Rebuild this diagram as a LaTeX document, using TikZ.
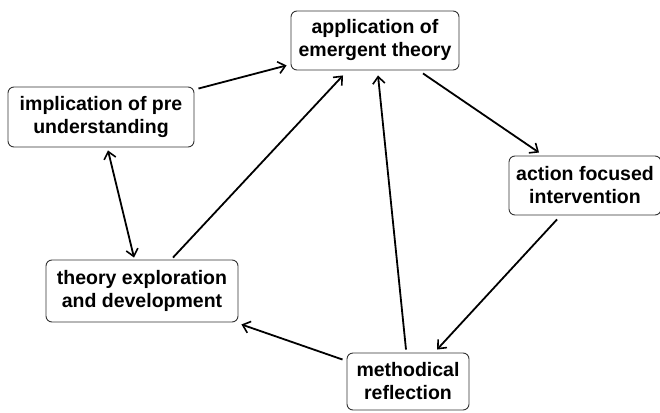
\documentclass[tikz,border=0pt]{standalone}
\usepackage{fontspec}
\setmainfont{Liberation Sans}
\usetikzlibrary{arrows.meta}
\begin{document}
\begin{tikzpicture}[x=1pt,y=-1pt,
  box/.style={draw=black!80, line width=0.9pt, rounded corners=6pt, align=center,
    inner sep=0pt, font=\fontsize{19.5}{23}\selectfont\bfseries},
  conn/.style={line width=1.8pt, -{Straight Barb[length=7pt,width=12pt,line width=1.6pt]}},
  bconn/.style={line width=1.8pt, {Straight Barb[length=7pt,width=12pt,line width=1.6pt]}-{Straight Barb[length=7pt,width=12pt,line width=1.6pt]}}]
\useasboundingbox[fill=white] (0,0) rectangle (660,412);
\node[box, minimum width=168pt, minimum height=59pt] (app) at (375,40.5) {application of\\emergent theory};
\node[box, minimum width=186pt, minimum height=60pt] (impl) at (101,117) {implication of pre\\understanding};
\node[box, minimum width=152pt, minimum height=59pt] (act) at (585,185.5) {action focused\\intervention};
\node[box, minimum width=192pt, minimum height=62pt] (theo) at (142,291) {theory exploration\\and development};
\node[box, minimum width=122pt, minimum height=57pt] (meth) at (408,381.5) {methodical\\reflection};
\draw[conn] ([xshift=4pt,yshift=-2pt]impl.north east) -- ([xshift=-4pt,yshift=5pt]app.south west);
\draw[bconn] ([xshift=7pt,yshift=-3pt]impl.south) -- ([xshift=-8pt,yshift=2pt]theo.north);
\draw[conn] ([xshift=31pt,yshift=2pt]theo.north) -- ([xshift=-32pt,yshift=-5pt]app.south);
\draw[conn] ([xshift=-2pt,yshift=3pt]meth.north) -- ([xshift=3pt,yshift=-5pt]app.south);
\draw[conn] ([xshift=48pt,yshift=-3pt]app.south) -- ([xshift=-46pt,yshift=3pt]act.north);
\draw[conn] ([xshift=-28pt,yshift=-4pt]act.south) -- ([xshift=29pt,yshift=3pt]meth.north);
\draw[conn] ([xshift=-4pt,yshift=-7pt]meth.north west) -- ([xshift=3pt,yshift=-2pt]theo.south east);
\end{tikzpicture}
\end{document}
